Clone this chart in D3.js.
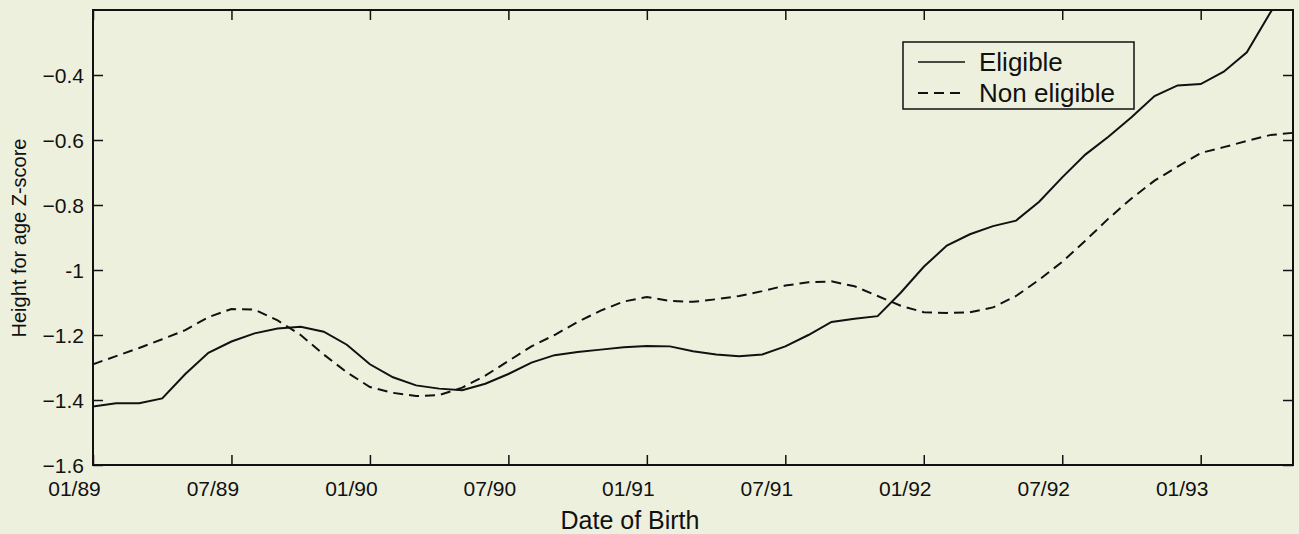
<!DOCTYPE html>
<html>
<head>
<meta charset="utf-8">
<script src="https://cdn.jsdelivr.net/npm/d3@7"></script>
<style>
  html, body { margin: 0; padding: 0; background: #eef0de; }
  svg { display: block; }
  text { font-family: "Liberation Sans", Arial, Helvetica, sans-serif; fill: #111; }
</style>
</head>
<body>
<svg id="chart" width="1299" height="534"></svg>
<script>
// months since 01/89
const months = d3.range(0, 53);
const eligible = [
  -1.42, -1.41, -1.41, -1.395, -1.32, -1.255, -1.22, -1.195, -1.18, -1.175,
  -1.19, -1.23, -1.29, -1.33, -1.355, -1.365, -1.37, -1.35, -1.32, -1.285,
  -1.262, -1.252, -1.245, -1.238, -1.234, -1.235, -1.25, -1.26, -1.265, -1.26,
  -1.235, -1.2, -1.16, -1.15, -1.142, -1.07, -0.99, -0.925, -0.89, -0.865,
  -0.848, -0.79, -0.715, -0.645, -0.59, -0.53, -0.465, -0.432, -0.428, -0.39,
  -0.33, -0.21, -0.1
];
const nonEligible = [
  -1.29, -1.265, -1.24, -1.213, -1.185, -1.145, -1.12, -1.122, -1.155, -1.2,
  -1.26, -1.315, -1.36, -1.378, -1.388, -1.385, -1.362, -1.325, -1.28, -1.235,
  -1.2, -1.16, -1.125, -1.097, -1.083, -1.095, -1.098, -1.09, -1.08, -1.065,
  -1.048, -1.038, -1.035, -1.05, -1.08, -1.11, -1.13, -1.132, -1.13, -1.115,
  -1.08, -1.03, -0.975, -0.91, -0.842, -0.78, -0.725, -0.682, -0.64, -0.622,
  -0.603, -0.585, -0.578
];
const xTickMonths = [0, 6, 12, 18, 24, 30, 36, 42, 48];
const xTickLabels = ["01/89", "07/89", "01/90", "07/90", "01/91", "07/91", "01/92", "07/92", "01/93"];
const yTicks = [-1.6, -1.4, -1.2, -1, -0.8, -0.6, -0.4];
const seriesNames = ["Eligible", "Non eligible"];

const svg = d3.select("#chart");
const L = 93, R = 1293, T = 10, B = 465;
const x = d3.scaleLinear().domain([0, 52]).range([L, R]);
const y = d3.scaleLinear().domain([-1.6, -0.2]).range([B, T]);

svg.append("defs").append("clipPath").attr("id", "clip")
  .append("rect").attr("x", L).attr("y", T).attr("width", R - L).attr("height", B - T);

const tickLen = 10;
const fmtY = d => (d === -1 ? "-1" : d3.format(".1f")(d));

// Bottom axis (ticks inward)
const gB = svg.append("g").attr("transform", `translate(0,${B})`)
  .call(d3.axisBottom(x).tickValues(xTickMonths).tickSize(-tickLen).tickPadding(0)
    .tickFormat((d, i) => xTickLabels[i]));
gB.select(".domain").remove();
gB.selectAll("line").attr("stroke", "#111").attr("stroke-width", 1.5);
gB.selectAll("text").attr("y", 31).attr("dy", 0).attr("dx", -19).attr("font-size", 21);

// Top axis
const gT = svg.append("g").attr("transform", `translate(0,${T})`)
  .call(d3.axisTop(x).tickValues(xTickMonths).tickSize(-tickLen).tickFormat(""));
gT.select(".domain").remove();
gT.selectAll("line").attr("stroke", "#111").attr("stroke-width", 1.5);

// Left axis
const gL = svg.append("g").attr("transform", `translate(${L},0)`)
  .call(d3.axisLeft(y).tickValues(yTicks).tickSize(-tickLen).tickPadding(10).tickFormat(fmtY));
gL.select(".domain").remove();
gL.selectAll("line").attr("stroke", "#111").attr("stroke-width", 1.5);
gL.selectAll("text").attr("font-size", 21).attr("x", -9).attr("dy", "0.36em");

// Right axis
const gR = svg.append("g").attr("transform", `translate(${R},0)`)
  .call(d3.axisRight(y).tickValues(yTicks).tickSize(-tickLen).tickFormat(""));
gR.select(".domain").remove();
gR.selectAll("line").attr("stroke", "#111").attr("stroke-width", 1.5);

// Frame
svg.append("rect").attr("x", L).attr("y", T).attr("width", R - L).attr("height", B - T)
  .attr("fill", "none").attr("stroke", "#111").attr("stroke-width", 2);

// Lines
const line = d3.line().x((d, i) => x(months[i])).y(d => y(d));
const plot = svg.append("g").attr("clip-path", "url(#clip)");
plot.append("path").datum(eligible).attr("d", line)
  .attr("fill", "none").attr("stroke", "#111").attr("stroke-width", 2);
plot.append("path").datum(nonEligible).attr("d", line)
  .attr("fill", "none").attr("stroke", "#111").attr("stroke-width", 2)
  .attr("stroke-dasharray", "10,6");

// Axis titles
svg.append("text").attr("x", 630).attr("y", 529).attr("text-anchor", "middle")
  .attr("font-size", 25).text("Date of Birth");
svg.append("text").attr("transform", "translate(26,238) rotate(-90)")
  .attr("text-anchor", "middle").attr("font-size", 20).text("Height for age Z-score");

// Legend
const lg = svg.append("g");
lg.append("rect").attr("x", 903).attr("y", 42).attr("width", 231).attr("height", 67)
  .attr("fill", "#eef0de").attr("stroke", "#111").attr("stroke-width", 1.5);
const lgY = [62, 93];
seriesNames.forEach((name, i) => {
  lg.append("line").attr("x1", 918).attr("x2", 965).attr("y1", lgY[i]).attr("y2", lgY[i])
    .attr("stroke", "#111").attr("stroke-width", i === 0 ? 1.5 : 2)
    .attr("stroke-dasharray", i === 0 ? null : "10,6");
  lg.append("text").attr("x", 979).attr("y", lgY[i] + 9).attr("font-size", 26).text(name);
});
</script>
</body>
</html>
